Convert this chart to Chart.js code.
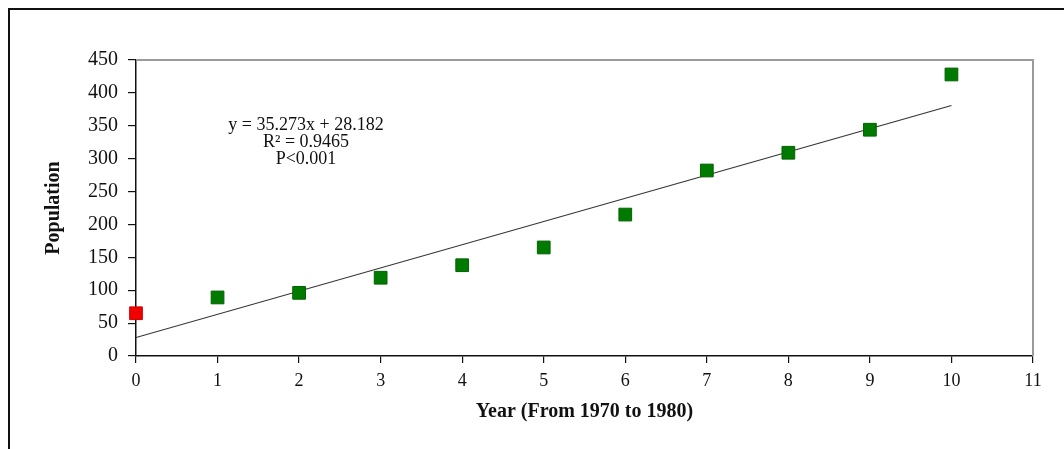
<!DOCTYPE html>
<html>
<head>
<meta charset="utf-8">
<script src="https://cdn.jsdelivr.net/npm/chart.js@4"></script>
<style>
  html, body { margin: 0; padding: 0; background: #fff; }
  #frame {
    position: absolute; left: 8px; top: 8px; width: 1100px; height: 500px;
    border-left: 2px solid #111; border-top: 2px solid #111;
  }
  #wrap { position: absolute; left: 0; top: 0; width: 1064px; height: 449px; }
</style>
</head>
<body>
<div id="frame"></div>
<div id="wrap"><canvas id="chart"></canvas></div>
<script>
// years since 1970 and counted population
const years = [0, 1, 2, 3, 4, 5, 6, 7, 8, 9, 10];
const population = [65, 89, 96, 119, 138, 165, 215, 282, 309, 344, 428];

// fitted trend: y = 35.273x + 28.182
const slope = 35.273;
const intercept = 28.182;
const fitLabels = ['y = 35.273x + 28.182', 'R\u00B2 = 0.9465', 'P<0.001'];

const serif = "'Liberation Serif', 'Times New Roman', serif";

const points = years.map((x, i) => ({ x: x, y: population[i] }));
const trend = [years[0], years[years.length - 1]].map((x) => ({ x: x, y: slope * x + intercept }));

// gray top/right edges of the plot box
const plotBox = {
  id: 'plotBox',
  beforeDatasetsDraw(chart) {
    const { ctx, chartArea: a } = chart;
    ctx.save();
    ctx.strokeStyle = '#9a9a9a';
    ctx.lineWidth = 2;
    ctx.beginPath();
    ctx.moveTo(a.left, a.top);
    ctx.lineTo(a.right, a.top);
    ctx.lineTo(a.right, a.bottom);
    ctx.stroke();
    ctx.restore();
  },
};

// regression text block
const fitText = {
  id: 'fitText',
  afterDatasetsDraw(chart) {
    const { ctx } = chart;
    ctx.save();
    ctx.fillStyle = '#111';
    ctx.font = '18px ' + serif;
    ctx.textAlign = 'center';
    ctx.textBaseline = 'middle';
    fitLabels.forEach((t, i) => ctx.fillText(t, 306, 125 + i * 17));
    ctx.restore();
  },
};

new Chart(document.getElementById('chart'), {
  type: 'scatter',
  data: {
    datasets: [
      {
        label: 'Population',
        data: points,
        pointStyle: 'rect',
        pointRadius: 9,
        pointHoverRadius: 9,
        borderWidth: 1,
        backgroundColor: (c) => (c.dataIndex === 0 ? '#f00000' : '#007a00'),
        borderColor: (c) => (c.dataIndex === 0 ? '#d00000' : '#006400'),
        clip: false,
        order: 1,
      },
      {
        type: 'line',
        label: 'Trend',
        data: trend,
        borderColor: '#333',
        borderWidth: 1.1,
        pointRadius: 0,
        fill: false,
        order: 2,
      },
    ],
  },
  options: {
    responsive: true,
    maintainAspectRatio: false,
    animation: false,
    layout: { padding: { left: 38, top: 60, right: 31, bottom: 21 } },
    plugins: { legend: { display: false }, tooltip: { enabled: false } },
    scales: {
      x: {
        type: 'linear',
        min: 0,
        max: 11,
        afterFit: (s) => { s.height = 72; },
        grid: { drawOnChartArea: false, tickLength: 7, color: '#111', lineWidth: 1.2 },
        border: { color: '#111', width: 1.5 },
        ticks: { stepSize: 1, color: '#111', padding: 7, font: { family: serif, size: 18 } },
        title: {
          display: true,
          text: 'Year (From 1970 to 1980)',
          color: '#111',
          font: { family: serif, size: 20, weight: 'bold' },
        },
      },
      y: {
        min: 0,
        max: 450,
        afterFit: (s) => { s.width = 98; },
        grid: { drawOnChartArea: false, tickLength: 8, color: '#111', lineWidth: 1.2 },
        border: { color: '#111', width: 1.5 },
        ticks: { stepSize: 50, color: '#111', padding: 10, font: { family: serif, size: 20 } },
        title: {
          display: true,
          text: 'Population',
          color: '#111',
          font: { family: serif, size: 20, weight: 'bold' },
        },
      },
    },
  },
  plugins: [plotBox, fitText],
});
</script>
</body>
</html>
